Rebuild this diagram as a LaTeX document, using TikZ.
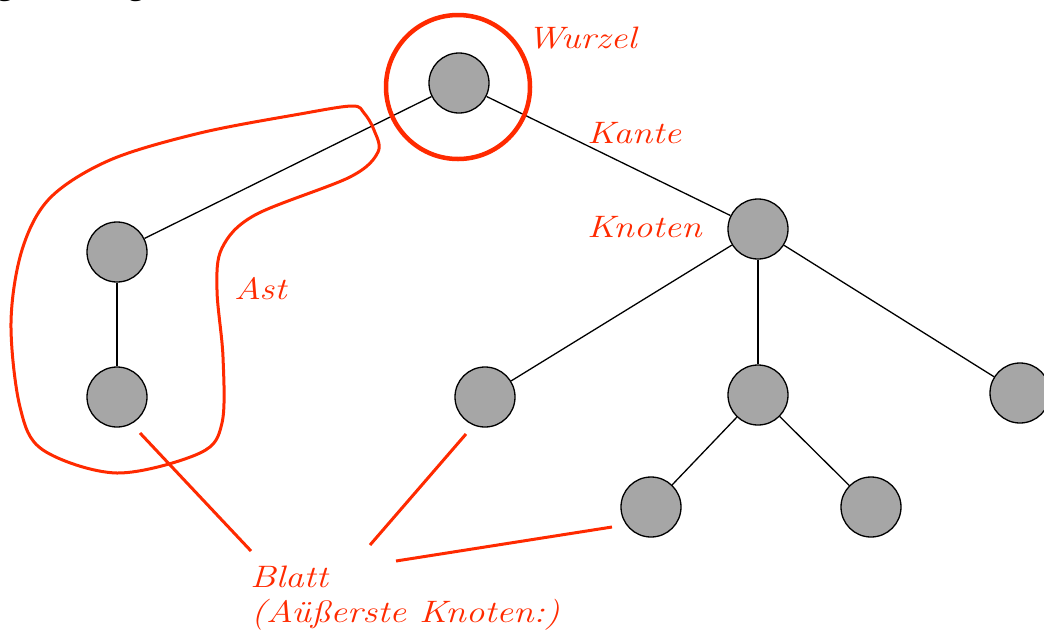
\documentclass[tikz,border=0pt]{standalone}
\usepackage{fontspec}
\newfontfamily\topfont{Open Sans}
\definecolor{redline}{HTML}{FF2A00}
\definecolor{nodegray}{HTML}{A6A6A6}
\newcommand{\wide}[1]{\scalebox{1.2}[1]{#1}}
\begin{document}
\begin{tikzpicture}[x=1pt,y=-1pt,
  tnode/.style={circle,draw=black,fill=nodegray,line width=1.3pt,minimum size=60pt,inner sep=0pt},
  edge/.style={draw=black,line width=1.3pt},
  redmark/.style={draw=redline,line width=3pt},
  lbl/.style={text=redline,font=\fontsize{31}{36}\selectfont\itshape,inner sep=0pt}]
\useasboundingbox (0,0) rectangle (1044,633);
\begin{scope}
\clip (0,0) rectangle (1044,633);
\node[anchor=base west,inner sep=0pt,font=\topfont\fontsize{30}{34}\selectfont] (top) at (-3,-6) {gende Begriffe};
\end{scope}
% nodes
\node[tnode] (root) at (459,83) {};
\node[tnode] (l1) at (117,252) {};
\node[tnode] (l2) at (117,397) {};
\node[tnode] (k) at (758,229) {};
\node[tnode] (n1) at (485,397) {};
\node[tnode] (n2) at (758,395) {};
\node[tnode] (n3) at (1020,393) {};
\node[tnode] (n4) at (651,507) {};
\node[tnode] (n5) at (871,507) {};
% edges
\draw[edge] (root) -- (l1);
\draw[edge] (root) -- (k);
\draw[edge] (l1) -- (l2);
\draw[edge] (k) -- (n1);
\draw[edge] (k) -- (n2);
\draw[edge] (k) -- (n3);
\draw[edge] (n2) -- (n4);
\draw[edge] (n2) -- (n5);
% red marks
\draw[redmark,line width=4.5pt] (458,87) circle[radius=72];
\draw[redmark] plot[smooth cycle,tension=0.55] coordinates {
 (352,106) (300,114) (200,133) (110,160) (50,198) (22,250) (11,323) (20,407)
 (43,450) (117,473) (200,453) (222,423) (223,357) (217,290) (222,248) (255,215)
 (350,177) (378,152) (374,130) (364,113)};
% labels
\node[lbl,anchor=west] (wurzel) at (527,38) {\wide{Wurzel}};
\node[lbl,anchor=west] (kante) at (587,133) {\wide{Kante}};
\node[lbl,anchor=west] (knoten) at (587,227) {\wide{Knoten}};
\node[lbl,anchor=west] (ast) at (234,289) {\wide{Ast}};
\node[lbl,anchor=west] (blatt) at (250,577) {\wide{Blatt}};
\node[lbl,anchor=west] (aussen) at (251,615) {\wide{(Aüßerste Knoten:)}};
\coordinate (b1a) at (140,433); \coordinate (b1b) at (251,551);
\coordinate (b2a) at (466,434); \coordinate (b2b) at (370,545);
\coordinate (b3a) at (612,527); \coordinate (b3b) at (396,561);
\draw[redmark] (b1a) -- (b1b);
\draw[redmark] (b2a) -- (b2b);
\draw[redmark] (b3a) -- (b3b);
\end{tikzpicture}
\end{document}
